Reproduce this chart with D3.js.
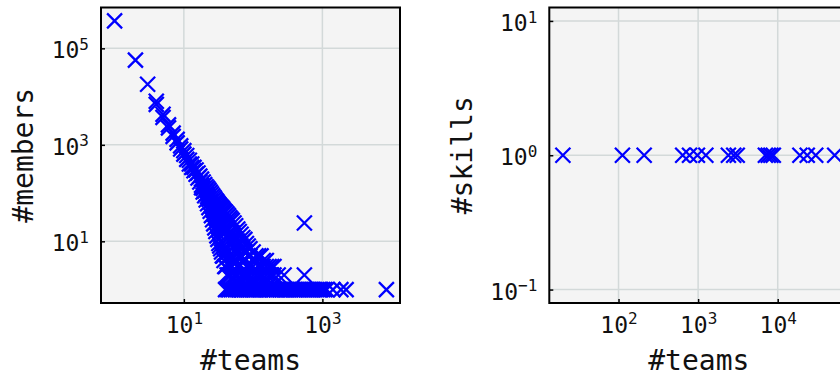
<!DOCTYPE html>
<html>
<head>
<meta charset="utf-8">
<script src="https://cdn.jsdelivr.net/npm/d3@7"></script>
<style>
  body { margin: 0; background: #fff; }
  svg { display: block; }
</style>
</head>
<body>
<svg id="chart" width="840" height="377"></svg>
<script>
// left panel: #members per #teams
const headTeams   = [1, 2, 3, 4, 4, 5, 5, 6, 6, 7, 7, 8, 8, 9, 9, 10, 10, 11, 11, 12, 12];
const headMembers = [370000, 57000, 18000, 8000, 6900, 4300, 3700, 2600, 2250, 1750, 1500,
                     1300, 1100, 950, 820, 760, 640, 600, 500, 480, 400];

// the thick band, one row of member counts per team count
const bandTeams = [13, 14, 15, 16, 17, 18, 19, 20, 21, 22, 23, 24, 25, 26, 27, 28, 29, 30,
                   31, 32, 33, 34, 35, 36, 37, 38, 39, 40, 42, 44, 46, 48, 50, 53, 56, 60,
                   63, 67, 71, 76, 80, 85, 90, 100, 110, 120, 130, 140, 155, 170, 185, 200,
                   230, 280, 550];
const bandMembers = [
  [400, 340], [340, 290], [300, 245], [260, 205], [225, 170],
  [195, 145, 130], [170, 125, 105], [150, 110, 88], [135, 95, 72], [125, 85, 60],
  [115, 75, 50], [105, 66, 42], [96, 58, 34], [88, 52, 28], [82, 46, 23],
  [76, 42, 19], [70, 38, 16], [66, 34, 13], [62, 31, 11], [58, 28, 9],
  [55, 26, 8], [52, 24, 7], [50, 22, 6], [48, 20, 5], [45, 18, 5],
  [43, 17, 4], [41, 16, 3], [40, 15, 3], [37, 13, 7, 2], [34, 12, 6, 2],
  [31, 11, 5, 2], [29, 10, 4, 2], [27, 15, 9, 5, 3], [24, 13, 8, 4, 2], [21, 11, 7, 4, 2],
  [18, 10, 6, 3, 2], [16, 9, 5, 3], [14, 8, 5, 2], [12, 7, 4, 2], [11, 6, 4, 2],
  [9, 6, 3, 2], [8, 5, 3, 2], [7, 5, 3, 2], [6, 4, 3, 2], [5, 4, 2],
  [5, 3, 2], [5, 3, 2], [4, 3, 2], [4, 3, 2], [3, 2],
  [3, 2], [3, 2], [2], [2], [2, 24]
];

// the floor: team counts held by a single member
const floorTeams   = [40, 43, 45, 48, 51, 55, 58, 62, 66, 70, 75, 81, 86, 92, 99, 105, 112,
                      121, 129, 138, 150, 160, 171, 185, 197, 214, 226, 245, 262, 281, 300,
                      322, 345, 372, 395, 420, 450, 480, 515, 550, 590, 630, 675, 720, 770,
                      825, 880, 945, 1010, 1080, 1150, 1420, 1850, 2200, 8400];
const floorMembers = [1, 1, 1, 1, 1, 1, 1, 1, 1, 1, 1, 1, 1, 1, 1, 1, 1, 1, 1, 1, 1, 1, 1,
                      1, 1, 1, 1, 1, 1, 1, 1, 1, 1, 1, 1, 1, 1, 1, 1, 1, 1, 1, 1, 1, 1, 1,
                      1, 1, 1, 1, 1, 1, 1, 1, 1];

// right panel: #skills per #teams
const skillTeams  = [20, 112, 210, 640, 780, 980, 1250, 2400, 2800, 3100, 7000, 7600, 8200,
                     8800, 19000, 23500, 30000, 52000];
const skillCounts = [1, 1, 1, 1, 1, 1, 1, 1, 1, 1, 1, 1, 1, 1, 1, 1, 1, 1];

const leftXTicks = [10, 1000];
const leftYTicks = [10, 1000, 100000];
const rightXTicks = [100, 1000, 10000];
const rightYTicks = [0.1, 1, 10];

const FONT = "DejaVu Sans Mono";
const svg = d3.select("#chart");

// matplotlib style log autoscale: 5% margin in log space
function logDomain(vals) {
  let [a, b] = d3.extent(vals).map(Math.log10);
  if (a === b) { a -= 1; b += 1; }
  const m = (b - a) * 0.05;
  return [Math.pow(10, a - m), Math.pow(10, b + m)];
}

function supLabel(sel, d) {
  const e = Math.round(Math.log10(d));
  sel.text(null);
  sel.append("tspan").text("10");
  sel.append("tspan").attr("dy", -8.5).attr("font-size", 16)
    .text(e < 0 ? "\u2212" + (-e) : e);
}

function panel(opt) {
  const { x0, x1, y0, y1, xs, ys, xTicks, yTicks, yLabel, yLabelX, id } = opt;
  const x = d3.scaleLog().domain(logDomain(xs)).range([x0, x1]);
  const y = d3.scaleLog().domain(logDomain(ys)).range([y1, y0]);
  const g = svg.append("g");

  g.append("clipPath").attr("id", id)
    .append("rect").attr("x", x0).attr("y", y0).attr("width", x1 - x0).attr("height", y1 - y0);

  g.append("rect").attr("x", x0).attr("y", y0).attr("width", x1 - x0).attr("height", y1 - y0)
    .attr("fill", "#f4f4f4");

  // grid
  g.append("g").selectAll("line").data(xTicks).enter().append("line")
    .attr("x1", d => x(d)).attr("x2", d => x(d)).attr("y1", y0).attr("y2", y1)
    .attr("stroke", "#d3d9d9").attr("stroke-width", 1.5);
  g.append("g").selectAll("line").data(yTicks).enter().append("line")
    .attr("y1", d => y(d)).attr("y2", d => y(d)).attr("x1", x0).attr("x2", x1)
    .attr("stroke", "#d3d9d9").attr("stroke-width", 1.5);

  // axes with inward ticks
  const xa = g.append("g").attr("transform", "translate(0," + y1 + ")")
    .call(d3.axisBottom(x).tickValues(xTicks).tickSize(-4));
  const ya = g.append("g").attr("transform", "translate(" + x0 + ",0)")
    .call(d3.axisLeft(y).tickValues(yTicks).tickSize(-4));
  [xa, ya].forEach(a => {
    a.select(".domain").remove();
    a.selectAll(".tick line").attr("stroke", "#000").attr("stroke-width", 1.5);
    a.selectAll(".tick text").attr("font-family", FONT).attr("font-size", 23).attr("fill", "#111");
  });
  xa.selectAll(".tick text").attr("y", 29.5).attr("dy", null).attr("text-anchor", "middle")
    .each(function(d) { supLabel(d3.select(this), d); });
  ya.selectAll(".tick text").attr("x", -12).attr("dy", null).attr("y", 9.6).attr("text-anchor", "end")
    .each(function(d) { supLabel(d3.select(this), d); });

  // markers
  g.append("g").attr("clip-path", "url(#" + id + ")")
    .selectAll("path").data(d3.zip(xs, ys)).enter().append("path")
    .attr("transform", d => "translate(" + x(d[0]) + "," + y(d[1]) + ")")
    .attr("d", "M-7.5,-7.5L7.5,7.5M-7.5,7.5L7.5,-7.5")
    .attr("stroke", "#0000ff").attr("stroke-width", 2.3).attr("fill", "none");

  // spines
  g.append("rect").attr("x", x0).attr("y", y0).attr("width", x1 - x0).attr("height", y1 - y0)
    .attr("fill", "none").attr("stroke", "#000").attr("stroke-width", 2);

  g.append("text").attr("x", (x0 + x1) / 2).attr("y", 370)
    .attr("text-anchor", "middle").attr("font-family", FONT).attr("font-size", 28)
    .attr("fill", "#111").text("#teams");
  g.append("text").attr("transform", "translate(" + yLabelX + "," + (y0 + y1) / 2 + ") rotate(-90)")
    .attr("text-anchor", "middle").attr("font-family", FONT).attr("font-size", 28)
    .attr("fill", "#111").text(yLabel);
}

const leftX = headTeams.concat(bandTeams.flatMap((t, i) => bandMembers[i].map(() => t)), floorTeams);
const leftY = headMembers.concat(bandMembers.flat(), floorMembers);

panel({ id: "clipL", x0: 101, x1: 400, y0: 7.5, y1: 303, xs: leftX, ys: leftY,
        xTicks: leftXTicks, yTicks: leftYTicks, yLabel: "#members", yLabelX: 33 });
panel({ id: "clipR", x0: 549.3, x1: 848.3, y0: 7.5, y1: 303, xs: skillTeams, ys: skillCounts,
        xTicks: rightXTicks, yTicks: rightYTicks, yLabel: "#skills", yLabelX: 471.7 });
</script>
</body>
</html>
